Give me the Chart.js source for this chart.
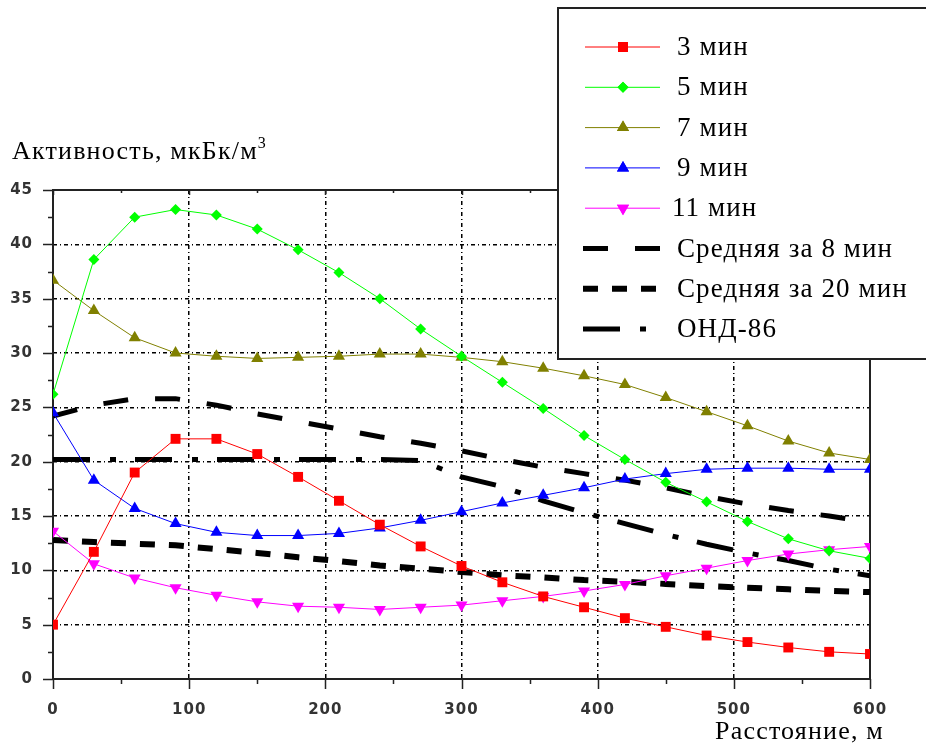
<!DOCTYPE html>
<html>
<head>
<meta charset="utf-8">
<script src="https://cdn.jsdelivr.net/npm/chart.js@4.4.0/dist/chart.umd.min.js"></script>
<style>
html, body { margin: 0; padding: 0; background: #fff; }
#wrap { position: relative; width: 926px; height: 747px; }
</style>
</head>
<body>
<div id="wrap"><canvas id="activityChart" width="926" height="747"></canvas></div>
<script>
// distance, m
var distances = [0, 30, 60, 90, 120, 150, 180, 210, 240, 270, 300, 330, 360, 390, 420, 450, 480, 510, 540, 570, 600];

// activity, mkBq/m3
var min3  = [5.0, 11.7, 19.0, 22.1, 22.1, 20.7, 18.6, 16.4, 14.2, 12.2, 10.4, 8.9, 7.6, 6.6, 5.6, 4.8, 4.0, 3.4, 2.9, 2.5, 2.3];
var min5  = [26.2, 38.6, 42.5, 43.2, 42.7, 41.4, 39.5, 37.4, 35.0, 32.2, 29.7, 27.3, 24.9, 22.4, 20.2, 18.1, 16.3, 14.5, 12.9, 11.8, 11.1];
var min7  = [36.7, 33.9, 31.4, 30.0, 29.7, 29.5, 29.6, 29.7, 29.9, 29.9, 29.6, 29.2, 28.6, 27.9, 27.1, 25.9, 24.6, 23.3, 21.9, 20.8, 20.2];
var min9  = [24.5, 18.3, 15.7, 14.3, 13.5, 13.2, 13.2, 13.4, 13.9, 14.6, 15.4, 16.2, 16.9, 17.6, 18.4, 18.9, 19.3, 19.4, 19.4, 19.3, 19.3];
var min11 = [13.6, 10.6, 9.3, 8.4, 7.7, 7.1, 6.7, 6.6, 6.4, 6.6, 6.8, 7.2, 7.6, 8.1, 8.7, 9.5, 10.2, 10.9, 11.5, 11.9, 12.2];
var avg8  = [24.2, 25.2, 25.8, 25.8, 25.2, 24.4, 23.7, 23.0, 22.3, 21.7, 21.0, 20.2, 19.5, 18.9, 18.3, 17.6, 16.8, 16.1, 15.5, 15.0, 14.4];
var avg20 = [12.8, 12.6, 12.45, 12.3, 11.95, 11.6, 11.2, 10.85, 10.45, 10.15, 9.85, 9.55, 9.35, 9.1, 8.95, 8.75, 8.55, 8.4, 8.25, 8.1, 8.0];
var ond86 = [20.2, 20.2, 20.2, 20.2, 20.2, 20.2, 20.2, 20.2, 20.2, 20.1, 18.6, 17.7, 16.4, 15.3, 14.3, 13.3, 12.4, 11.6, 10.9, 10.1, 9.5];

var xTicks = [0, 100, 200, 300, 400, 500, 600];
var yTicks = [0, 5, 10, 15, 20, 25, 30, 35, 40, 45];

var labels = ['3 мин', '5 мин', '7 мин', '9 мин', '11 мин', 'Средняя за 8 мин', 'Средняя за 20 мин', 'ОНД-86'];
var yTitle = 'Активность, мкБк/м';
var xTitle = 'Расстояние, м';

function pts(arr) {
    return distances.map(function (d, i) { return { x: d, y: arr[i] }; });
}

function markerSeries(label, data, color, style, radius, rotation) {
    return {
        label: label,
        data: pts(data),
        borderColor: color,
        backgroundColor: color,
        borderWidth: 1,
        pointStyle: style,
        pointRadius: radius,
        pointRotation: rotation || 0,
        pointBorderWidth: 0,
        pointBackgroundColor: color,
        tension: 0
    };
}

function blackSeries(label, data, dash, width) {
    return {
        label: label,
        data: pts(data),
        borderColor: '#000',
        borderWidth: width,
        borderDash: dash,
        borderCapStyle: 'butt',
        pointRadius: 0,
        tension: 0
    };
}

var datasets = [
    markerSeries(labels[0], min3, '#ff0000', 'rect', 7),
    markerSeries(labels[1], min5, '#00ff00', 'rectRot', 5.5),
    markerSeries(labels[2], min7, '#808000', 'triangle', 7),
    markerSeries(labels[3], min9, '#0000ff', 'triangle', 7),
    markerSeries(labels[4], min11, '#ff00ff', 'triangle', 7, 180),
    blackSeries(labels[5], avg8, [25, 27], 5),
    blackSeries(labels[6], avg20, [15, 14], 6),
    blackSeries(labels[7], ond86, [37, 20, 6, 19], 5)
];

var tickFont = { family: 'DejaVu Sans', size: 15, weight: 'bold' };

var frameAndText = {
    id: 'frameAndText',
    beforeDraw: function (chart) {
        chart.ctx.letterSpacing = '1px';
    },
    beforeDatasetsDraw: function (chart) {
        var ctx = chart.ctx;
        var a = chart.chartArea;
        var xs = chart.scales.x, ys = chart.scales.y;
        ctx.save();
        ctx.strokeStyle = '#222';
        ctx.lineWidth = 1.5;
        ctx.beginPath();
        // x ticks, every 50
        for (var v = 0; v <= 600; v += 50) {
            var px = Math.round(xs.getPixelForValue(v)) + 0.5;
            var len = v % 100 === 0 ? 10 : 5;
            ctx.moveTo(px, a.bottom);
            ctx.lineTo(px, a.bottom + len);
            ctx.moveTo(px, a.top);
            ctx.lineTo(px, a.top + (v % 100 === 0 ? 5 : 3));
        }
        // y ticks, every 2.5
        for (var w = 0; w <= 45; w += 2.5) {
            var py = Math.round(ys.getPixelForValue(w)) + 0.5;
            var l2 = w % 5 === 0 ? 10 : 5;
            ctx.moveTo(a.left, py);
            ctx.lineTo(a.left - l2, py);
        }
        ctx.stroke();
        ctx.lineWidth = 2;
        ctx.strokeRect(a.left, a.top, a.right - a.left, a.bottom - a.top);
        ctx.restore();
    },
    afterDraw: function (chart) {
        var ctx = chart.ctx;
        ctx.save();
        ctx.letterSpacing = '1.2px';
        ctx.fillStyle = '#000';
        ctx.textBaseline = 'alphabetic';
        ctx.font = '26px "Liberation Serif"';
        ctx.textAlign = 'left';
        ctx.fillText(yTitle, 12, 159);
        var tw = ctx.measureText(yTitle).width;
        ctx.font = '16px "Liberation Serif"';
        ctx.fillText('3', 12 + tw, 148);
        ctx.font = '26px "Liberation Serif"';
        ctx.textAlign = 'right';
        ctx.fillText(xTitle, 884, 739);

        // legend box, open on the right like the original
        ctx.fillStyle = '#fff';
        ctx.fillRect(558, 8, 380, 351);
        ctx.strokeStyle = '#222';
        ctx.lineWidth = 2;
        ctx.strokeRect(558, 8, 380, 351);

        ctx.letterSpacing = '1.1px';
        chart.data.datasets.forEach(function (ds, i) {
            var cy = 47 + i * 40.3;
            ctx.save();
            ctx.strokeStyle = ds.borderColor;
            ctx.lineWidth = ds.borderWidth;
            ctx.lineCap = 'butt';
            ctx.setLineDash(ds.borderDash || []);
            ctx.beginPath();
            if (ds.pointRadius > 0) {
                ctx.moveTo(585, cy);
                ctx.lineTo(660, cy);
            } else {
                ctx.moveTo(583, cy);
                ctx.lineTo(664, cy);
            }
            ctx.stroke();
            ctx.restore();
            if (ds.pointRadius > 0) {
                ctx.fillStyle = ds.backgroundColor;
                Chart.helpers.drawPoint(ctx, {
                    pointStyle: ds.pointStyle,
                    rotation: ds.pointRotation,
                    radius: ds.pointRadius,
                    borderWidth: 0
                }, 623, cy);
                ctx.fill();
            }
            ctx.fillStyle = '#000';
            ctx.textAlign = 'left';
            ctx.textBaseline = 'middle';
            ctx.font = '27px "Liberation Serif"';
            ctx.fillText(ds.label, i === 4 ? 672 : 677, cy + 1);
        });
        ctx.restore();
    }
};

new Chart(document.getElementById('activityChart').getContext('2d'), {
    type: 'line',
    data: { datasets: datasets },
    options: {
        responsive: false,
        animation: false,
        layout: { padding: { left: 0, top: 190, right: 56, bottom: 0 } },
        plugins: {
            legend: { display: false },
            tooltip: { enabled: false }
        },
        scales: {
            x: {
                type: 'linear',
                min: 0,
                max: 600,
                afterFit: function (scale) { scale.height = 68; },
                afterBuildTicks: function (scale) {
                    scale.ticks = xTicks.map(function (v) { return { value: v }; });
                },
                ticks: { font: tickFont, color: '#333', padding: 22, maxRotation: 0 },
                grid: {
                    drawTicks: false,
                    color: function (c) {
                        return (c.tick && (c.tick.value === 0 || c.tick.value === 600)) ? 'rgba(0,0,0,0)' : '#000';
                    },
                    lineWidth: 1.5
                },
                border: { display: false, dash: [4, 3, 1, 3] }
            },
            y: {
                min: 0,
                max: 45,
                afterFit: function (scale) { scale.width = 53; },
                afterBuildTicks: function (scale) {
                    scale.ticks = yTicks.map(function (v) { return { value: v }; });
                },
                ticks: { font: tickFont, color: '#333', padding: 20 },
                grid: {
                    drawTicks: false,
                    color: function (c) {
                        return (c.tick && (c.tick.value === 0 || c.tick.value === 45)) ? 'rgba(0,0,0,0)' : '#000';
                    },
                    lineWidth: 1.5
                },
                border: { display: false, dash: [4, 3, 1, 3] }
            }
        }
    },
    plugins: [frameAndText]
});
</script>
</body>
</html>
